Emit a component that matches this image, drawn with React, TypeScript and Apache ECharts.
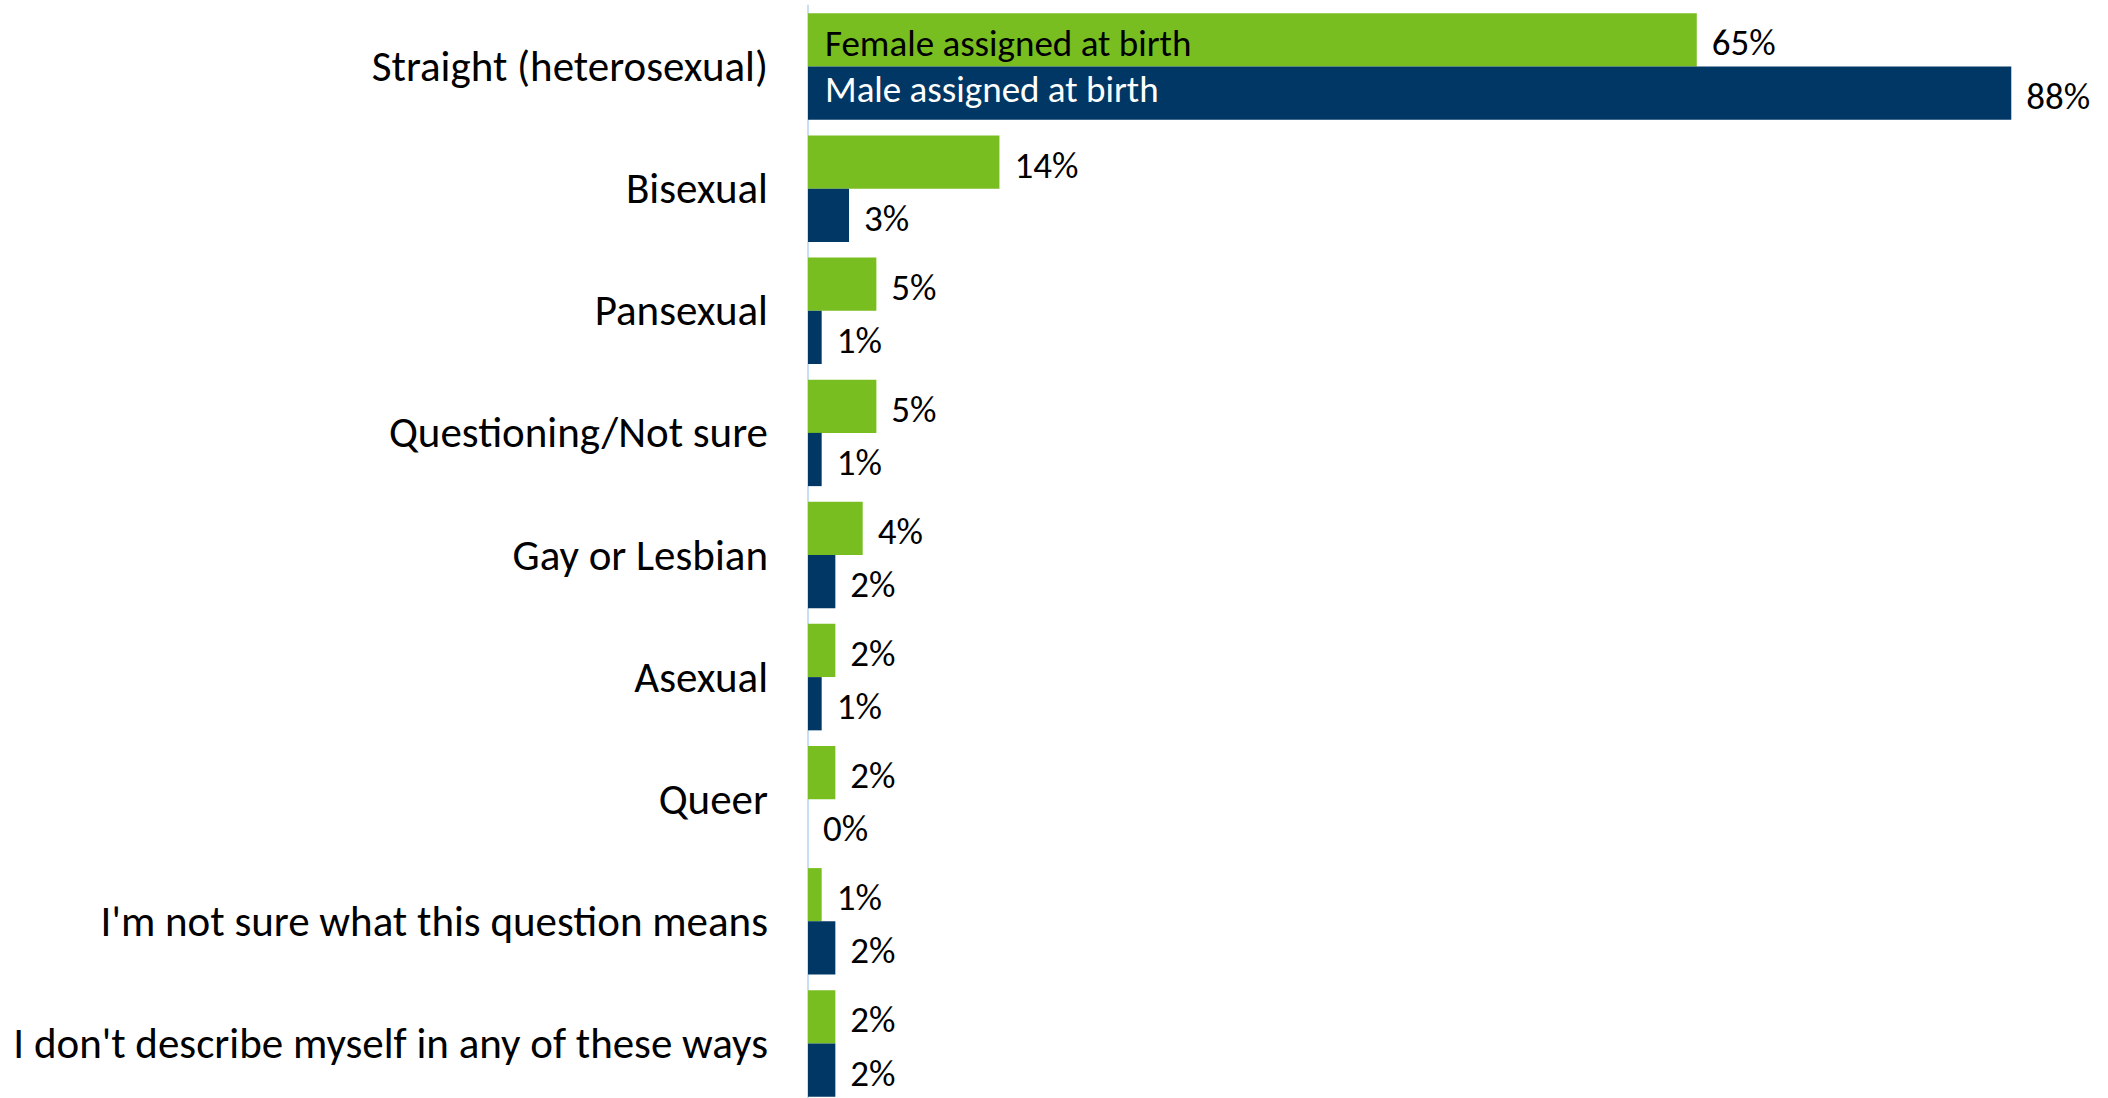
import React, { useEffect, useRef } from "react";
import * as echarts from "echarts";

const categories = [
  "Straight (heterosexual)",
  "Bisexual",
  "Pansexual",
  "Questioning/Not sure",
  "Gay or Lesbian",
  "Asexual",
  "Queer",
  "I'm not sure what this question means",
  "I don't describe myself in any of these ways",
];
const femaleName = "Female assigned at birth";
const maleName = "Male assigned at birth";
const femaleValues = [65, 14, 5, 5, 4, 2, 2, 1, 2];
const maleValues = [88, 3, 1, 1, 2, 1, 0, 2, 2];

const FONT = "Carlito, Calibri, 'Liberation Sans Narrow', 'Open Sans', sans-serif";
const GREEN = "#78BE21";
const NAVY = "#003764";

export default function App() {
  const ref = useRef<HTMLDivElement>(null);
  useEffect(() => {
    if (!ref.current) return;
    const chart = echarts.init(ref.current, undefined, { renderer: "svg" });
    const nameData = () => categories.map((_, i) => (i === 0 ? 0 : "-"));
    const valueLabel = {
      show: true,
      position: "right",
      distance: 15,
      offset: [0, 3],
      fontSize: 37,
      fontFamily: FONT,
      color: "#000",
      formatter: (p: any) => p.value + "%",
    };
    const common = { type: "bar", barCategoryGap: "12.8%", barGap: "0%" };
    chart.setOption({
      animation: false,
      grid: {
        left: 808,
        right: 1,
        top: 5.5,
        height: 1099,
        containLabel: false,
        outerBoundsMode: "none",
      },
      xAxis: {
        type: "value",
        min: 0,
        max: 95,
        show: false,
        splitLine: { show: false },
      },
      yAxis: {
        type: "category",
        data: categories,
        inverse: true,
        axisLine: { show: true, lineStyle: { color: "#C9DEF2", width: 2 } },
        axisTick: { show: false },
        axisLabel: {
          fontSize: 43,
          fontFamily: FONT,
          color: "#000",
          margin: 40,
        },
      },
      series: [
        {
          ...common,
          name: femaleName + "-label",
          stack: "f",
          data: nameData(),
          itemStyle: { color: GREEN },
          label: {
            show: true,
            position: "right",
            distance: 17,
            offset: [0, 4],
            fontSize: 37,
            fontFamily: FONT,
            color: "#000",
            formatter: () => femaleName,
          },
          z: 3,
        },
        {
          ...common,
          name: femaleName,
          stack: "f",
          data: femaleValues,
          itemStyle: { color: GREEN },
          label: valueLabel,
          z: 2,
        },
        {
          ...common,
          name: maleName + "-label",
          stack: "m",
          data: nameData(),
          itemStyle: { color: NAVY },
          label: {
            show: true,
            position: "right",
            distance: 17,
            offset: [0, -4],
            fontSize: 37,
            fontFamily: FONT,
            color: "#fff",
            formatter: () => maleName,
          },
          z: 3,
        },
        {
          ...common,
          name: maleName,
          stack: "m",
          data: maleValues,
          itemStyle: { color: NAVY },
          label: valueLabel,
          z: 2,
        },
      ],
    });
    return () => chart.dispose();
  }, []);
  return (
    <div
      ref={ref}
      style={{ width: 2108, height: 1098, position: "absolute", left: 0, top: 0, background: "#fff" }}
    />
  );
}
